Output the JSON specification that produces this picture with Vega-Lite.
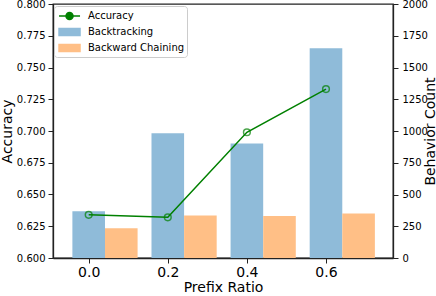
{
  "$schema": "https://vega.github.io/schema/vega-lite/v6.json",
  "width": 340,
  "height": 254,
  "autosize": {"type": "none"},
  "padding": {"left": 53, "top": 4, "right": 43, "bottom": 38},
  "config": {
    "font": "DejaVu Sans",
    "view": {"stroke": "#222222", "strokeWidth": 1.3},
    "axis": {
      "domainColor": "#222222", "domainWidth": 1.3, "tickColor": "#222222", "tickSize": 5, "tickWidth": 1,
      "labelColor": "black", "titleColor": "black", "labelFont": "DejaVu Sans", "titleFont": "DejaVu Sans",
      "titleFontWeight": "normal", "grid": false
    }
  },
  "datasets": {
    "counts": [
      {"ratio": 0.0, "series": "Backtracking", "count": 368},
      {"ratio": 0.2, "series": "Backtracking", "count": 982},
      {"ratio": 0.4, "series": "Backtracking", "count": 902},
      {"ratio": 0.6, "series": "Backtracking", "count": 1651},
      {"ratio": 0.0, "series": "Backward Chaining", "count": 235},
      {"ratio": 0.2, "series": "Backward Chaining", "count": 334},
      {"ratio": 0.4, "series": "Backward Chaining", "count": 331},
      {"ratio": 0.6, "series": "Backward Chaining", "count": 350}
    ],
    "acc": [
      {"ratio": 0.0, "series": "Accuracy", "accuracy": 0.634},
      {"ratio": 0.2, "series": "Accuracy", "accuracy": 0.632},
      {"ratio": 0.4, "series": "Accuracy", "accuracy": 0.699},
      {"ratio": 0.6, "series": "Accuracy", "accuracy": 0.733}
    ]
  },
  "encoding": {
    "x": {
      "field": "ratio", "type": "quantitative",
      "scale": {"domain": [-0.0776, 0.7568], "nice": false, "zero": false},
      "axis": {"values": [0, 0.2, 0.4, 0.6], "format": ".1f", "labelFontSize": 14, "title": "Prefix Ratio", "titleFontSize": 14, "labelPadding": 2, "titlePadding": 1}
    }
  },
  "layer": [
    {
      "data": {"name": "counts"},
      "encoding": {
        "y": {
          "field": "count", "type": "quantitative",
          "scale": {"domain": [0, 2000], "nice": false},
          "axis": {"orient": "right", "values": [0, 250, 500, 750, 1000, 1250, 1500, 1750, 2000], "format": "d", "labelFontSize": 10, "title": "Behavior Count", "titleFontSize": 14, "labelPadding": 4, "titleAngle": 270, "titleX": 41, "titleY": 127, "titleAlign": "center", "titleBaseline": "alphabetic"}
        },
        "color": {
          "field": "series", "type": "nominal",
          "scale": {"domain": ["Accuracy", "Backtracking", "Backward Chaining"], "range": ["#008000", "#8fbbd9", "#ffbf86"]},
          "legend": {
            "title": null, "orient": "none", "legendX": 1, "legendY": 2,
            "fillColor": "white", "strokeColor": "#cccccc", "cornerRadius": 3, "padding": 2,
            "labelFontSize": 10, "labelColor": "black", "rowPadding": 1, "symbolSize": 196, "symbolStrokeWidth": 1.5, "labelOffset": 16,
            "encode": {
              "symbols": {
                "update": {
                  "shape": {"signal": "datum.value === 'Accuracy' ? 'M-0.71,0L2.29,0M1.29,0A0.5,0.5 0 1,1 0.29,0A0.5,0.5 0 1,1 1.29,0' : 'M-0.71,-0.5L2.29,-0.5L2.29,0.5L-0.71,0.5Z'"},
                  "fill": {"signal": "datum.value === 'Accuracy' ? 'transparent' : scale('color', datum.value)"},
                  "stroke": {"signal": "datum.value === 'Accuracy' ? '#008000' : 'transparent'"}
                }
              }
            }
          }
        }
      },
      "layer": [
        {
          "transform": [{"filter": "datum.series === 'Backtracking'"}],
          "mark": {"type": "bar", "width": 32.6}
        },
        {
          "transform": [{"filter": "datum.series === 'Backward Chaining'"}],
          "mark": {"type": "bar", "width": 32.6, "xOffset": 32.6}
        }
      ]
    },
    {
      "data": {"name": "acc"},
      "encoding": {
        "y": {
          "field": "accuracy", "type": "quantitative",
          "scale": {"domain": [0.6, 0.8], "nice": false, "zero": false},
          "axis": {"orient": "left", "values": [0.6, 0.625, 0.65, 0.675, 0.7, 0.725, 0.75, 0.775, 0.8], "format": ".3f", "labelFontSize": 10, "title": "Accuracy", "titleFontSize": 14, "labelPadding": 3, "titlePadding": 2}
        },
        "color": {"field": "series", "type": "nominal", "legend": null}
      },
      "layer": [
        {"mark": {"type": "line", "strokeWidth": 1.5}},
        {"mark": {"type": "point", "shape": "circle", "size": 45, "filled": false, "strokeWidth": 1.5}}
      ]
    }
  ],
  "resolve": {"scale": {"y": "independent"}}
}
